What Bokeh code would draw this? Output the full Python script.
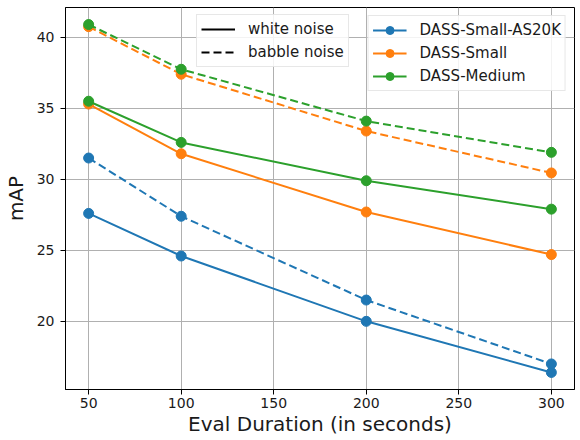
from bokeh.plotting import figure
from bokeh.models import Legend, LegendItem, ColumnDataSource, Range1d, FixedTicker
from bokeh.embed import file_html
from bokeh.resources import INLINE

durations = [50, 100, 200, 300]
series_names = ["DASS-Small-AS20K", "DASS-Small", "DASS-Medium"]
white_noise = {
    "DASS-Small-AS20K": [27.6, 24.6, 20.0, 16.4],
    "DASS-Small": [35.3, 31.8, 27.7, 24.7],
    "DASS-Medium": [35.5, 32.6, 29.9, 27.9],
}
babble_noise = {
    "DASS-Small-AS20K": [31.5, 27.4, 21.5, 17.0],
    "DASS-Small": [40.75, 37.4, 33.4, 30.45],
    "DASS-Medium": [40.9, 37.75, 34.1, 31.9],
}
colors = ["#1f77b4", "#ff7f0e", "#2ca02c"]
x_ticks = [50, 100, 150, 200, 250, 300]
y_ticks = [20, 25, 30, 35, 40]
x_label = "Eval Duration (in seconds)"
y_label = "mAP"

FONT = "DejaVu Sans"
DASH = "8 4"
TXT = "#1a1a1a"

W, H = 576, 438

p = figure(width=W, height=H, output_backend="svg", toolbar_location=None,
           x_range=Range1d(37.5, 312.5), y_range=Range1d(15.2, 42.1),
           min_border_left=65, min_border_right=2, min_border_top=7, min_border_bottom=49)

p.outline_line_color = "black"
p.outline_line_width = 1
p.background_fill_color = "white"
p.border_fill_color = "white"

for ax in (p.xaxis[0], p.yaxis[0]):
    ax.axis_line_color = "black"
    ax.major_tick_line_color = "black"
    ax.major_tick_out = 5
    ax.major_tick_in = 0
    ax.minor_tick_line_color = None
    ax.major_label_text_font = FONT
    ax.major_label_text_font_size = "14px"
    ax.major_label_text_color = TXT
    ax.axis_label_text_font = FONT
    ax.axis_label_text_font_style = "normal"
    ax.axis_label_text_font_size = "20px"
    ax.axis_label_text_color = TXT

p.xaxis.ticker = FixedTicker(ticks=x_ticks)
p.yaxis.ticker = FixedTicker(ticks=y_ticks)
p.xaxis.axis_label = x_label
p.yaxis.axis_label = y_label
p.xaxis.major_label_standoff = 3
p.xaxis.axis_label_standoff = 1
p.yaxis.major_label_standoff = 6
p.yaxis.axis_label_standoff = 6

p.grid.grid_line_color = "#b0b0b0"
p.grid.grid_line_width = 1

series_items = []
for name, c in zip(series_names, colors):
    src_w = ColumnDataSource(dict(x=durations, y=white_noise[name]))
    src_b = ColumnDataSource(dict(x=durations, y=babble_noise[name]))
    lw = p.line("x", "y", source=src_w, line_color=c, line_width=2)
    sw = p.scatter("x", "y", source=src_w, size=10, fill_color=c, line_color=c)
    lb = p.line("x", "y", source=src_b, line_color=c, line_width=2, line_dash=DASH)
    sb = p.scatter("x", "y", source=src_b, size=10, fill_color=c, line_color=c)
    series_items.append(LegendItem(label=name, renderers=[lw, sw]))

nan = float("nan")
dummy_solid = p.line([nan], [nan], line_color="black", line_width=2)
dummy_dash = p.line([nan], [nan], line_color="black", line_width=2, line_dash=DASH)
style_items = [LegendItem(label="white noise", renderers=[dummy_solid]),
               LegendItem(label="babble noise", renderers=[dummy_dash])]

def style_legend(lg):
    lg.label_text_font = FONT
    lg.label_text_font_size = "15px"
    lg.label_text_color = TXT
    lg.label_height = 20
    lg.glyph_height = 20
    lg.glyph_width = 34
    lg.label_standoff = 13
    lg.spacing = 3
    lg.padding = 4
    lg.border_line_color = "#d0d0d0"
    lg.border_line_width = 1
    lg.background_fill_color = "white"
    lg.background_fill_alpha = 0.85

leg_series = Legend(items=series_items, location="top_right")
style_legend(leg_series)
leg_series.margin = 8
leg_style = Legend(items=style_items, location=(131, 322))
style_legend(leg_style)
leg_style.margin = 0

p.add_layout(leg_series, "center")
p.add_layout(leg_style, "center")

open("out.html", "w").write(file_html(p, INLINE))
